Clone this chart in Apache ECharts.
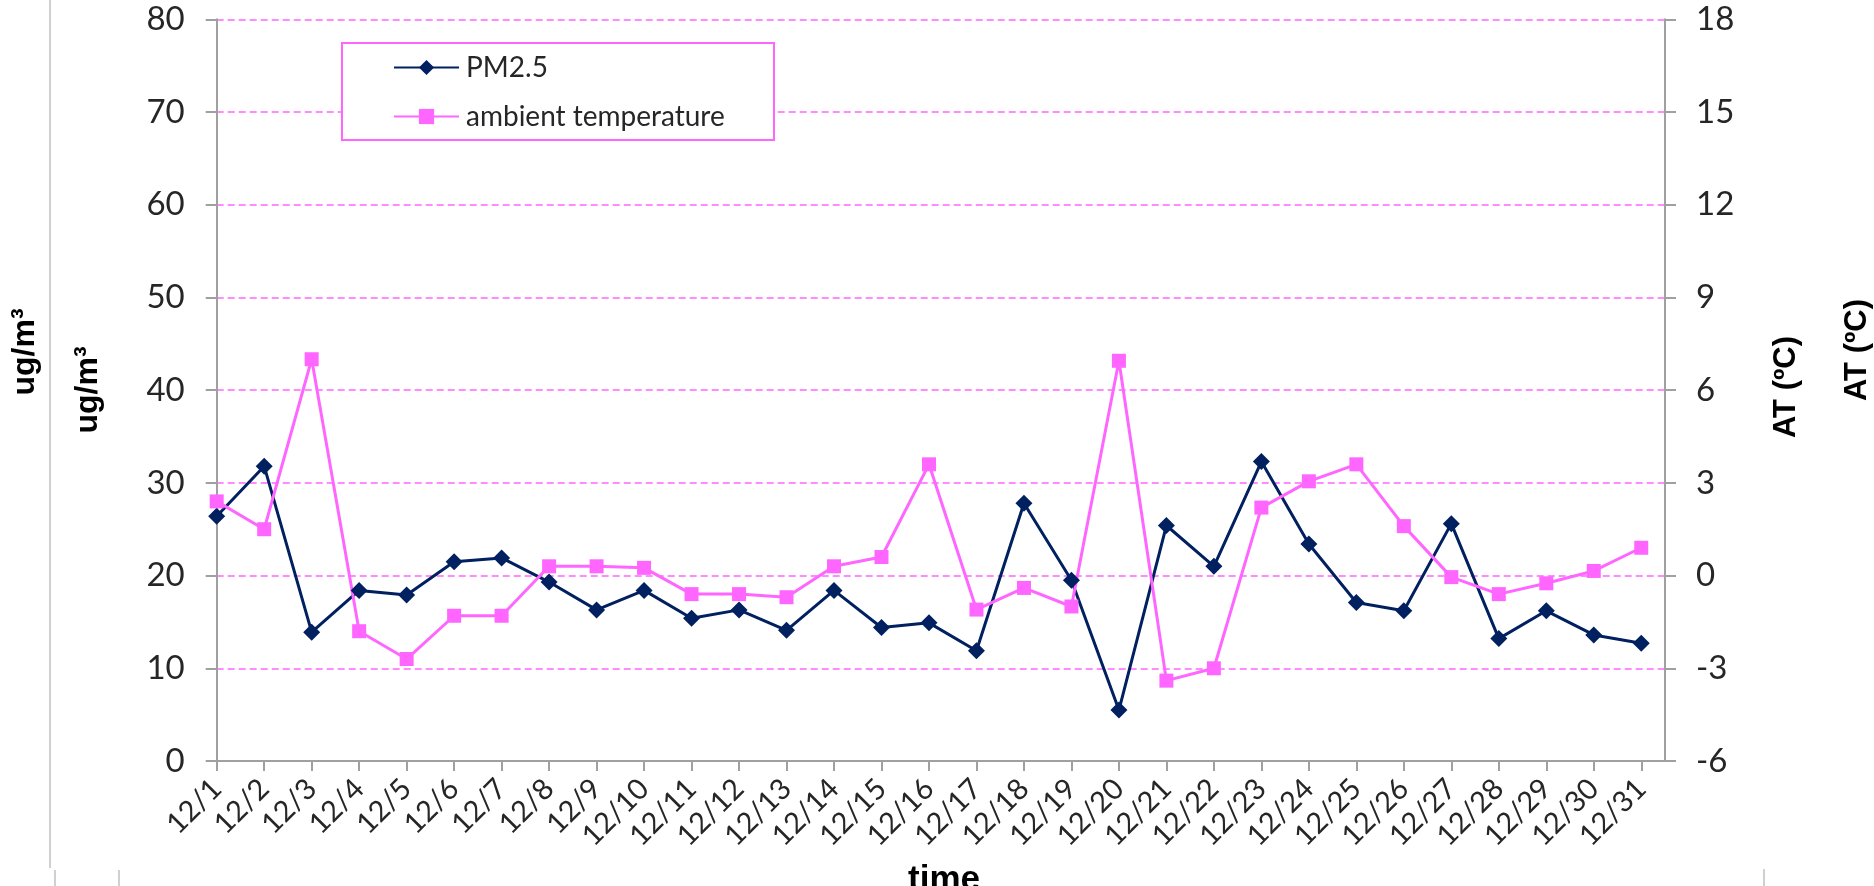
<!DOCTYPE html>
<html>
<head>
<meta charset="utf-8">
<script src="https://cdn.jsdelivr.net/npm/echarts@6/dist/echarts.min.js"></script>
<style>
html,body{margin:0;padding:0;background:#fff;}
#chart{width:1874px;height:886px;}
</style>
</head>
<body>
<div id="chart"></div>
<script>
const categories = ['12/1','12/2','12/3','12/4','12/5','12/6','12/7','12/8','12/9','12/10','12/11','12/12','12/13','12/14','12/15','12/16','12/17','12/18','12/19','12/20','12/21','12/22','12/23','12/24','12/25','12/26','12/27','12/28','12/29','12/30','12/31'];
const pm25 = [26.4, 31.8, 13.9, 18.4, 17.9, 21.5, 21.9, 19.3, 16.3, 18.4, 15.4, 16.3, 14.1, 18.4, 14.4, 14.9, 11.9, 27.8, 19.5, 5.5, 25.4, 21.0, 32.3, 23.4, 17.1, 16.2, 25.6, 13.2, 16.2, 13.6, 12.7];
const temperature = [2.4, 1.5, 7.0, -1.8, -2.7, -1.3, -1.3, 0.3, 0.3, 0.25, -0.6, -0.6, -0.7, 0.3, 0.6, 3.6, -1.1, -0.4, -1.0, 6.95, -3.4, -3.0, 2.2, 3.05, 3.6, 1.6, -0.05, -0.6, -0.25, 0.15, 0.9];
const seriesNames = ['PM2.5', 'ambient temperature'];
const leftTitle = 'ug/m³';
const rightTitle = 'AT (ºC)';
const xTitle = 'time';

const FONT = 'Lato';
const AXIS_GRAY = '#a0a0a0';
const PINK = '#ff66ff';
const NAVY = '#002060';
const idx = categories.map((_, i) => i);

const chart = echarts.init(document.getElementById('chart'), null, {renderer: 'canvas'});
const titleStyle = {fontFamily: 'Liberation Sans', fontWeight: 'bold', fontSize: 31, fill: '#000'};

chart.setOption({
  animation: false,
  backgroundColor: '#fff',
  grid: {left: 216.7, right: 209, top: 19.3, bottom: 125, containLabel: false},
  legend: {
    data: seriesNames,
    orient: 'vertical',
    left: 393, top: 53.5, z: 20,
    itemWidth: 65, itemHeight: 19, itemGap: 21,
    padding: 0,
    textStyle: {fontFamily: FONT, fontSize: 28, color: '#262626', lineHeight: 27, padding: [0,0,0,2]}
  },
  xAxis: {
    type: 'value', min: 0, max: 30.5, interval: 1,
    axisLine: {show: true, lineStyle: {color: AXIS_GRAY, width: 2}},
    axisTick: {show: true, customValues: idx, length: 10, inside: false, lineStyle: {color: AXIS_GRAY, width: 2}},
    axisLabel: {customValues: idx, rotate: 45, margin: 23, fontFamily: FONT, fontSize: 29, color: '#262626',
      formatter: v => categories[v] !== undefined ? categories[v] : ''},
    splitLine: {show: false}
  },
  yAxis: [
    {type: 'value', min: 0, max: 80, interval: 10, position: 'left',
     axisLine: {show: true, lineStyle: {color: AXIS_GRAY, width: 2}},
     axisTick: {show: true, length: 11, lineStyle: {color: AXIS_GRAY, width: 2}},
     axisLabel: {margin: 32, fontFamily: FONT, fontSize: 33, color: '#262626'},
     splitLine: {show: true, lineStyle: {color: PINK, type: [7, 4], width: 1.5}}},
    {type: 'value', min: -6, max: 18, interval: 3, position: 'right',
     axisLine: {show: true, lineStyle: {color: AXIS_GRAY, width: 2}},
     axisTick: {show: true, length: 11, lineStyle: {color: AXIS_GRAY, width: 2}},
     axisLabel: {margin: 31, fontFamily: FONT, fontSize: 33, color: '#262626'},
     splitLine: {show: false}}
  ],
  series: [
    {name: seriesNames[0], type: 'line', yAxisIndex: 0,
     data: pm25.map((v, i) => [i, v]),
     symbol: 'diamond', symbolSize: 17,
     lineStyle: {color: NAVY, width: 3}, itemStyle: {color: NAVY}},
    {name: seriesNames[1], type: 'line', yAxisIndex: 1,
     data: temperature.map((v, i) => [i, v]),
     symbol: 'rect', symbolSize: 14,
     lineStyle: {color: PINK, width: 3}, itemStyle: {color: PINK}}
  ],
  graphic: [
    {type: 'rect', left: 341, top: 42, z: 1, shape: {width: 432, height: 97},
     style: {fill: '#fff', stroke: PINK, lineWidth: 2}},
    {type: 'text', x: 25, y: 352, rotation: Math.PI / 2, style: Object.assign({text: leftTitle, align: 'center', verticalAlign: 'middle'}, titleStyle, {fontSize: 32})},
    {type: 'text', x: 88, y: 390, rotation: Math.PI / 2, style: Object.assign({text: leftTitle, align: 'center', verticalAlign: 'middle'}, titleStyle, {fontSize: 32})},
    {type: 'text', x: 1786, y: 387, rotation: Math.PI / 2, style: Object.assign({text: rightTitle, align: 'center', verticalAlign: 'middle'}, titleStyle)},
    {type: 'text', x: 1857, y: 350, rotation: Math.PI / 2, style: Object.assign({text: rightTitle, align: 'center', verticalAlign: 'middle'}, titleStyle)},
    {type: 'text', x: 944, y: 863, style: Object.assign({text: xTitle, align: 'center', verticalAlign: 'top'}, titleStyle, {fontSize: 35})},
    {type: 'line', shape: {x1: 50, y1: 0, x2: 50, y2: 868}, style: {stroke: '#c0c0c0', lineWidth: 1.5}},
    {type: 'line', shape: {x1: 55, y1: 870, x2: 55, y2: 886}, style: {stroke: '#c0c0c0', lineWidth: 1.5}},
    {type: 'line', shape: {x1: 119, y1: 870, x2: 119, y2: 886}, style: {stroke: '#c0c0c0', lineWidth: 1.5}},
    {type: 'line', shape: {x1: 1764, y1: 869, x2: 1764, y2: 886}, style: {stroke: '#c0c0c0', lineWidth: 1.5}}
  ]
});
</script>
</body>
</html>
